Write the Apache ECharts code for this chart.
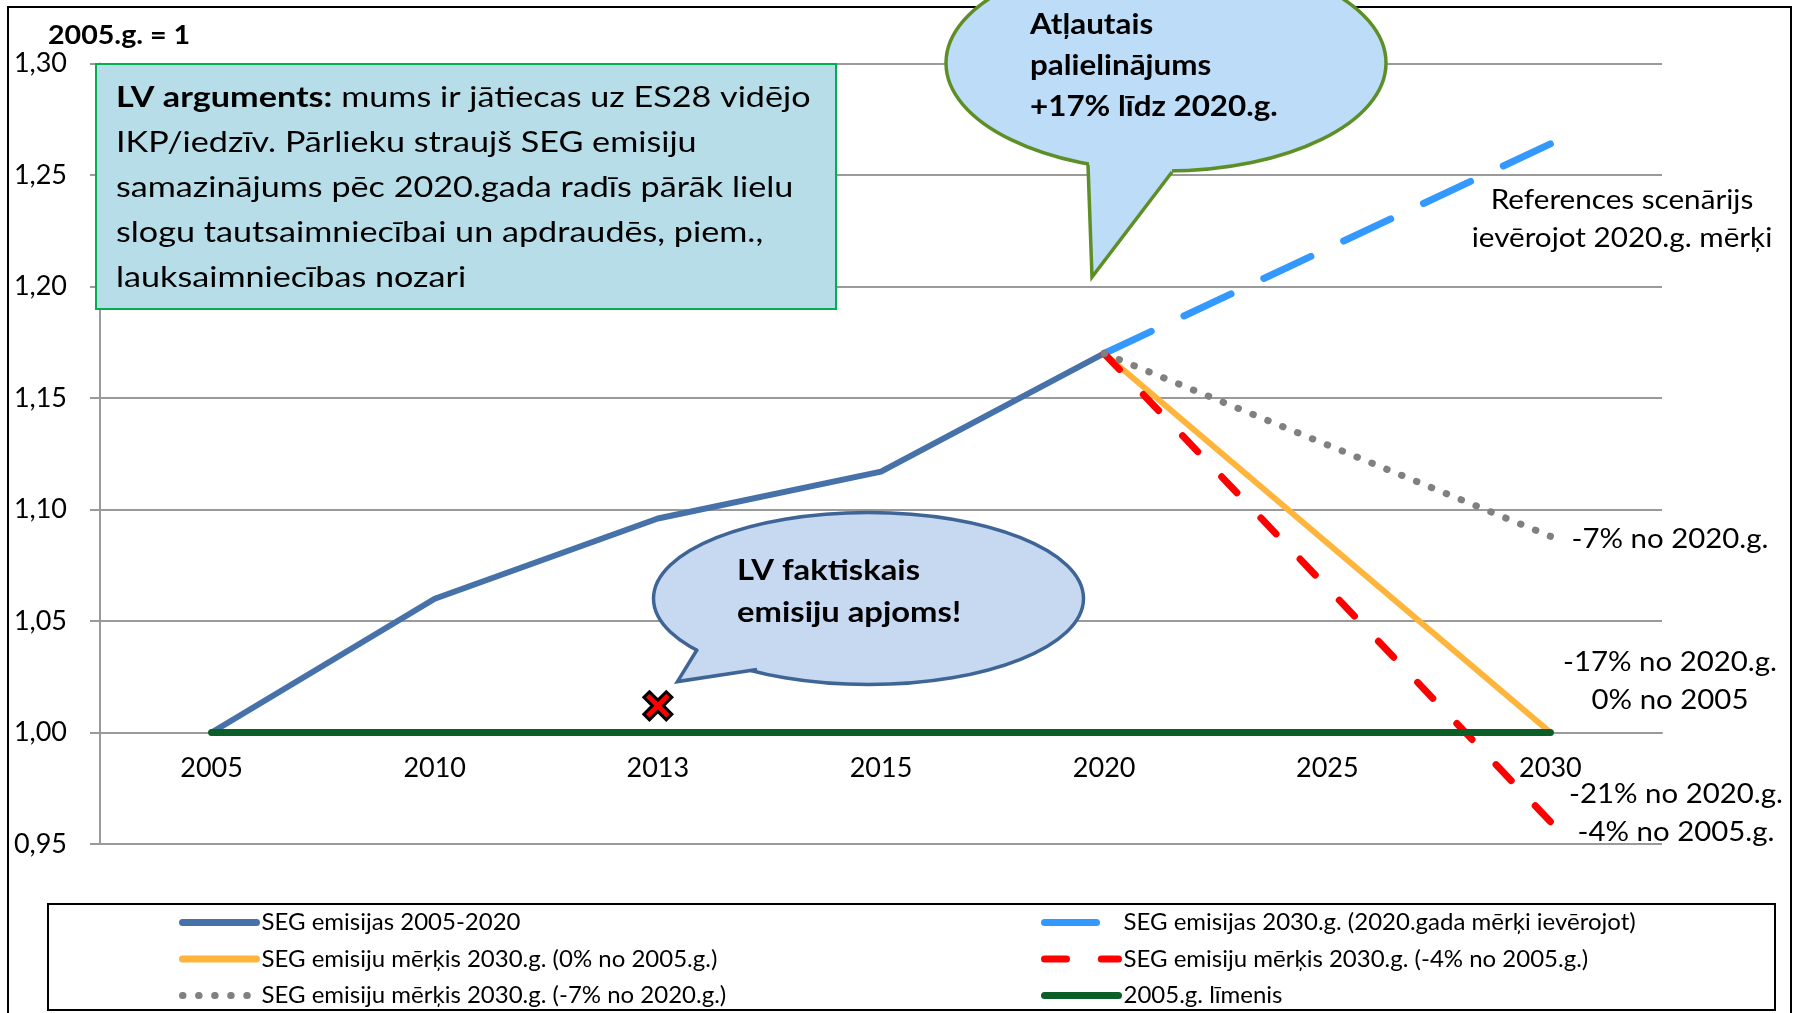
<!DOCTYPE html>
<html>
<head>
<meta charset="utf-8">
<script src="https://cdn.jsdelivr.net/npm/echarts@6/dist/echarts.min.js"></script>
<style>
  html, body { margin: 0; padding: 0; background: #fff; }
  #chart { width: 1798px; height: 1013px; }
</style>
</head>
<body>
<div id="chart"></div>
<script>
// data (2005 = 1)
const years = ["2005", "2010", "2013", "2015", "2020", "2025", "2030"];
const emissions2005to2020 = [1.0, 1.06, 1.096, 1.117, 1.17, null, null];
const emissions2030Reference = [null, null, null, null, 1.17, null, 1.264];
const target0of2005 = [null, null, null, null, 1.17, null, 1.0];
const targetMinus4of2005 = [null, null, null, null, 1.17, null, 0.96];
const targetMinus7of2020 = [null, null, null, null, 1.17, null, 1.088];
const level2005 = [1, 1, 1, 1, 1, 1, 1];
const actual2013 = [null, null, 1.012, null, null, null, null];

const yTicks = [0.95, 1.3, 0.05];

const names = {
  hist: "SEG emisijas 2005-2020",
  ref: "SEG emisijas 2030.g. (2020.gada mērķi ievērojot)",
  t0: "SEG emisiju mērķis 2030.g. (0% no 2005.g.)",
  t4: "SEG emisiju mērķis 2030.g. (-4% no 2005.g.)",
  t7: "SEG emisiju mērķis 2030.g. (-7% no 2020.g.)",
  lvl: "2005.g. līmenis",
};

const font = "Lato, 'Open Sans', sans-serif";
const W = 1798, H = 1013;
const grid = { left: 100, right: 136, top: 63.6, bottom: 169 };
const gridHeight = H - grid.top - grid.bottom;
// x axis sits on the 1,00 line
const xAxisOffset = -gridHeight * (1.0 - yTicks[0]) / (yTicks[1] - yTicks[0]);

const chart = echarts.init(document.getElementById("chart"));

function lineSeries(name, data, color, width, type, z) {
  return {
    name: name,
    type: "line",
    data: data,
    connectNulls: true,
    symbol: "none",
    z: z,
    lineStyle: { color: color, width: width, type: type, cap: "round", join: "round" },
    itemStyle: { color: color },
  };
}

// text annotation, slightly widened like the original slide text
function note(text, x, y, size, scaleX, opts) {
  return {
    type: "text",
    z: 120,
    silent: true,
    x: x,
    y: y,
    scaleX: scaleX,
    style: Object.assign(
      {
        text: text,
        fill: "#000",
        fontFamily: font,
        fontSize: size,
        textAlign: "center",
        textVerticalAlign: "middle",
      },
      opts || {}
    ),
  };
}

const legendCommon = {
  orient: "vertical",
  top: 909.5,
  padding: 0,
  itemWidth: 74,
  itemHeight: 14,
  itemGap: 10.5,
  textStyle: { fontFamily: font, fontSize: 24, color: "#000", lineHeight: 26 },
  lineStyle: { width: 7 },
  itemStyle: { opacity: 0 },
};

const option = {
  animation: false,
  backgroundColor: "#fff",
  grid: grid,
  legend: [
    Object.assign({ left: 179, data: [names.hist, names.t0, names.t7] }, legendCommon),
    Object.assign({ left: 1041, data: [names.ref, names.t4, names.lvl] }, legendCommon),
  ],
  xAxis: {
    type: "category",
    data: years,
    boundaryGap: true,
    offset: xAxisOffset,
    axisLine: { lineStyle: { color: "#9a9a9a", width: 2 } },
    axisTick: { interval: 0, length: 10, lineStyle: { color: "#9a9a9a", width: 2 } },
    axisLabel: { fontFamily: font, fontSize: 27, color: "#000", margin: 22 },
    splitLine: { show: false },
  },
  yAxis: {
    type: "value",
    min: yTicks[0],
    max: yTicks[1],
    interval: yTicks[2],
    axisLine: { show: true, lineStyle: { color: "#9a9a9a", width: 2 } },
    axisTick: { show: true, length: 10, lineStyle: { color: "#9a9a9a", width: 2 } },
    axisLabel: {
      fontFamily: font,
      fontSize: 27,
      color: "#000",
      margin: 33,
      formatter: (v) => v.toFixed(2).replace(".", ","),
    },
    splitLine: { lineStyle: { color: "#9a9a9a", width: 2 } },
  },
  series: [
    lineSeries(names.ref, emissions2030Reference, "#3399ff", 7, [52, 36.2], 3),
    lineSeries(names.hist, emissions2005to2020, "#4671a9", 6, "solid", 4),
    lineSeries(names.t0, target0of2005, "#ffb53b", 6, "solid", 5),
    lineSeries(names.t4, targetMinus4of2005, "#ff0000", 7, [22, 34.8], 6),
    lineSeries(names.t7, targetMinus7of2020, "#808080", 7, [0.5, 15.57], 7),
    lineSeries(names.lvl, level2005, "#0b5e27", 7, "solid", 8),
    {
      name: "LV faktiskais emisiju apjoms",
      type: "scatter",
      data: actual2013,
      z: 9,
      symbol: "path://M4,0 L10,6 L16,0 L20,4 L14,10 L20,16 L16,20 L10,14 L4,20 L0,16 L6,10 L0,4 Z",
      symbolSize: 28,
      itemStyle: { color: "#ff0000", borderColor: "#000", borderWidth: 3, opacity: 1 },
    },
  ],
  graphic: [
    // outer frame and legend frame
    {
      type: "rect", z: 0, silent: true,
      shape: { x: 8, y: 7, width: 1783, height: 1040 },
      style: { fill: "none", stroke: "#000", lineWidth: 2 },
    },
    {
      type: "rect", z: 1, silent: true,
      shape: { x: 48, y: 904, width: 1727, height: 106 },
      style: { fill: "#fff", stroke: "#000", lineWidth: 2 },
    },
    note("2005.g. = 1", 48, 36, 26, 1.1, { fontWeight: "bold", textAlign: "left" }),

    // argument box
    {
      type: "rect", z: 110, silent: true,
      shape: { x: 96, y: 64, width: 740, height: 245 },
      style: { fill: "#b7dde8", stroke: "#00b050", lineWidth: 2 },
    },
    {
      type: "text", z: 120, silent: true,
      x: 116, y: 75.5, scaleX: 1.22,
      style: {
        text:
          "{b|LV arguments:} mums ir jātiecas uz ES28 vidējo\n" +
          "IKP/iedzīv. Pārlieku straujš SEG emisiju\n" +
          "samazinājums pēc 2020.gada radīs pārāk lielu\n" +
          "slogu tautsaimniecībai un apdraudēs, piem.,\n" +
          "lauksaimniecības nozari",
        fill: "#000",
        fontFamily: font,
        fontSize: 28,
        lineHeight: 45,
        textAlign: "left",
        textVerticalAlign: "top",
        rich: { b: { fontWeight: "bold", fontFamily: font, fontSize: 28, lineHeight: 45 } },
      },
    },

    // top speech bubble
    {
      type: "ellipse", z: 110, silent: true,
      shape: { cx: 1166, cy: 63, rx: 220, ry: 108 },
      style: { fill: "#bcdcf8", stroke: "#5e8f26", lineWidth: 3.5 },
    },
    {
      type: "polygon", z: 111, silent: true,
      shape: { points: [[1089, 155], [1089, 166], [1092, 277], [1172, 172], [1172, 160]] },
      style: { fill: "#bcdcf8" },
    },
    {
      type: "polyline", z: 112, silent: true,
      shape: { points: [[1088, 165], [1092, 277], [1172, 172]] },
      style: { fill: null, stroke: "#5e8f26", lineWidth: 3.5 },
    },
    note("Atļautais\npalielinājums\n+17% līdz 2020.g.", 1030, 4.5, 28, 1.12, {
      fontWeight: "bold", lineHeight: 41, textAlign: "left", textVerticalAlign: "top",
    }),

    // middle speech bubble
    {
      type: "ellipse", z: 110, silent: true,
      shape: { cx: 868.5, cy: 598.5, rx: 215, ry: 86 },
      style: { fill: "#c6d9f0", stroke: "#3f6496", lineWidth: 3.5 },
    },
    {
      type: "polygon", z: 111, silent: true,
      shape: { points: [[699, 640], [698, 649], [677.4, 681.6], [757, 669], [757, 660]] },
      style: { fill: "#c6d9f0" },
    },
    {
      type: "polyline", z: 112, silent: true,
      shape: { points: [[697.5, 649], [677.4, 681.6], [757, 669.5]] },
      style: { fill: null, stroke: "#3f6496", lineWidth: 3.5 },
    },
    note("LV faktiskais\nemisiju apjoms!", 737, 549.7, 28, 1.17, {
      fontWeight: "bold", lineHeight: 42, textAlign: "left", textVerticalAlign: "top",
    }),

    // right-hand notes
    note("References scenārijs\nievērojot 2020.g. mērķi", 1622, 220, 26, 1.14, { lineHeight: 38 }),
    note("-7% no 2020.g.", 1670, 539.5, 26, 1.13),
    note("-17% no 2020.g.\n0% no 2005", 1670, 681.5, 26, 1.13, { lineHeight: 38 }),
    note("-21% no 2020.g.\n-4% no 2005.g.", 1676, 814, 26, 1.13, { lineHeight: 38 }),
  ],
};

chart.setOption(option);
</script>
</body>
</html>
